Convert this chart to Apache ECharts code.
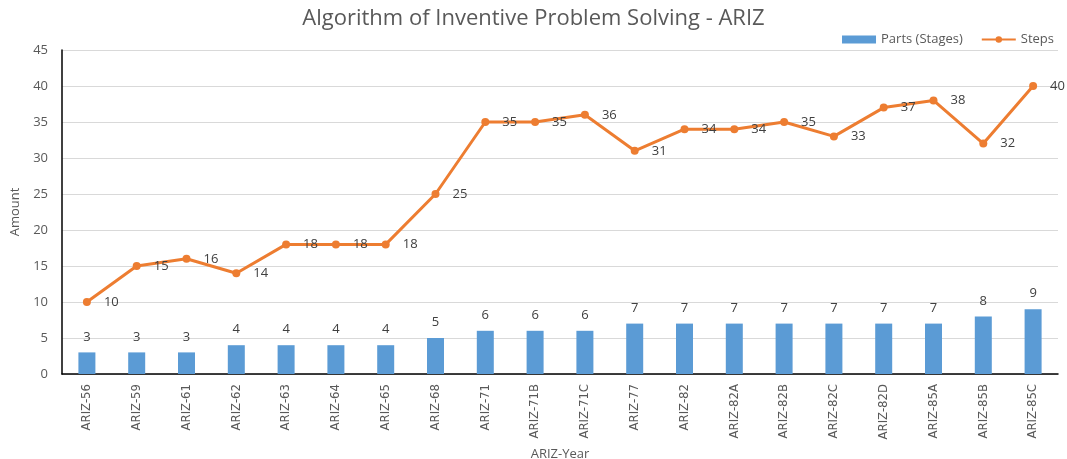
<!DOCTYPE html>
<html><head><meta charset="utf-8">
<script src="https://cdn.jsdelivr.net/npm/echarts@6/dist/echarts.min.js"></script>
<style>html,body{margin:0;padding:0;background:#fff}#c{width:1067px;height:459px}</style>
</head><body><div id="c"></div>
<script>
const categories = ['ARIZ-56','ARIZ-59','ARIZ-61','ARIZ-62','ARIZ-63','ARIZ-64','ARIZ-65','ARIZ-68','ARIZ-71','ARIZ-71B','ARIZ-71C','ARIZ-77','ARIZ-82','ARIZ-82A','ARIZ-82B','ARIZ-82C','ARIZ-82D','ARIZ-85A','ARIZ-85B','ARIZ-85C'];
const parts = [3,3,3,4,4,4,4,5,6,6,6,7,7,7,7,7,7,7,8,9];
const steps = [10,15,16,14,18,18,18,25,35,35,36,31,34,34,35,33,37,38,32,40];

const chart = echarts.init(document.getElementById('c'));
const font = 'Open Sans, Noto Sans, sans-serif';
chart.setOption({
  animation: false,
  textStyle: {fontFamily: font},
  title: {text: 'Algorithm of Inventive Problem Solving - ARIZ', left: 'center', top: 3,
    textStyle: {fontSize: 22, fontWeight: 'normal', color: '#595959', fontFamily: font}},
  legend: {right: 8, top: 28, itemGap: 18, itemWidth: 34, itemHeight: 8,
    textStyle: {fontSize: 13, color: '#595959'},
    data: [{name: 'Parts (Stages)', icon: 'rect'}, {name: 'Steps'}]},
  grid: {left: 62, right: 9, top: 50, bottom: 85, outerBoundsMode: 'none'},
  xAxis: {type: 'category', data: categories,
    name: 'ARIZ-Year', nameLocation: 'middle', nameGap: 71,
    nameTextStyle: {fontSize: 13, color: '#595959'},
    axisLine: {lineStyle: {color: '#000', width: 1.5}},
    axisTick: {show: false},
    axisLabel: {rotate: 90, fontSize: 13, color: '#595959', margin: 10, fontFamily: 'DejaVu Sans Condensed'}},
  yAxis: {type: 'value', min: 0, max: 45, interval: 5,
    name: 'Amount', nameLocation: 'middle', nameGap: 38, nameRotate: 90,
    nameTextStyle: {fontSize: 13, color: '#595959'},
    axisLine: {show: true, lineStyle: {color: '#000', width: 1.5}},
    axisTick: {show: false},
    axisLabel: {fontSize: 13, color: '#595959', margin: 14},
    splitLine: {lineStyle: {color: '#d9d9d9'}}},
  series: [
    {name: 'Parts (Stages)', type: 'bar', data: parts, barWidth: 17,
      itemStyle: {color: '#5b9bd5'},
      label: {show: true, position: 'top', distance: 9, fontSize: 13, color: '#404040'}},
    {name: 'Steps', type: 'line', data: steps, symbol: 'circle', symbolSize: 8,
      lineStyle: {color: '#ed7d31', width: 3}, itemStyle: {color: '#ed7d31'},
      label: {show: true, position: 'right', distance: 13, fontSize: 13, color: '#404040'}}
  ]
});
</script></body></html>
